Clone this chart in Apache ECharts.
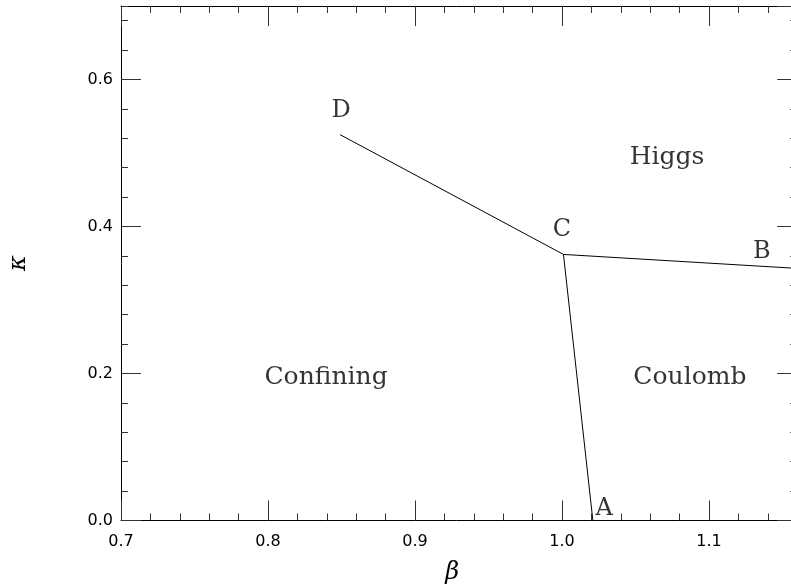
<!DOCTYPE html>
<html>
<head>
<meta charset="utf-8">
<script src="https://cdn.jsdelivr.net/npm/echarts@6/dist/echarts.min.js"></script>
<style>
  html, body { margin: 0; padding: 0; background: #fff; }
  #chart { width: 791px; height: 584px; }
</style>
</head>
<body>
<div id="chart"></div>
<script>
// phase boundary lines (beta, kappa)
const lineDC_B = [[0.849, 0.525], [1.001, 0.362], [1.16, 0.343]]
const lineC_A = [[1.001, 0.362], [1.021, 0.0]]

// point labels
const pointNames = ['D', 'C', 'B', 'A']
const pointPos = [[0.8497, 0.558], [1.0, 0.396], [1.136, 0.366], [1.0286, 0.016]]

// region labels
const regionNames = ['Higgs', 'Confining', 'Coulomb']
const regionPos = [[1.0714, 0.494], [0.8395, 0.195], [1.087, 0.195]]

const xMin = 0.7, xMax = 1.16
const yMin = 0.0, yMax = 0.7

const chart = echarts.init(document.getElementById('chart'))

const tickFont = { fontFamily: 'DejaVu Sans', fontSize: 16, color: '#000' }
const line = { show: true, onZero: false, lineStyle: { color: '#000', width: 1 } }
const noLine = { show: false, onZero: false }

// each side gets two axes: major ticks (long) and minor ticks (short)
const xAx = (pos, interval, len, opts) => Object.assign({
  type: 'value', position: pos, offset: 0, min: xMin, max: xMax, interval: interval,
  axisLine: noLine, splitLine: { show: false },
  axisTick: { show: true, inside: true, length: len, lineStyle: { color: '#333', width: 1 } },
  axisLabel: { show: false },
}, opts || {})

const yAx = (pos, interval, len, opts) => Object.assign({
  type: 'value', position: pos, offset: 0, min: yMin, max: yMax, interval: interval,
  axisLine: noLine, splitLine: { show: false },
  axisTick: { show: true, inside: true, length: len, lineStyle: { color: '#333', width: 1 } },
  axisLabel: { show: false },
}, opts || {})

chart.setOption({
  animation: false,
  grid: {
    left: 121, top: 6, width: (xMax - xMin) * 1470, height: (yMax - yMin) * 735,
    outerBoundsMode: 'none', containLabel: false,
  },
  xAxis: [
    xAx('bottom', 0.1, 20, {
      axisLine: line,
      axisLabel: { show: true, margin: 13, showMaxLabel: false, formatter: v => v.toFixed(1), ...tickFont },
      name: 'β', nameLocation: 'middle', nameGap: 40,
      nameTextStyle: { fontFamily: 'DejaVu Serif', fontStyle: 'italic', fontSize: 24, color: '#000', padding: [0, 14, 0, 0] },
    }),
    xAx('bottom', 0.02, 7),
    xAx('top', 0.1, 20, { axisLine: line }),
    xAx('top', 0.02, 7),
  ],
  yAxis: [
    yAx('left', 0.2, 20, {
      axisLine: line,
      axisLabel: { show: true, margin: 8, showMaxLabel: false, formatter: v => v.toFixed(1), ...tickFont },
      name: 'κ', nameLocation: 'middle', nameGap: 90, nameRotate: 90,
      nameTextStyle: { fontFamily: 'DejaVu Serif', fontStyle: 'italic', fontSize: 24, color: '#000' },
    }),
    yAx('left', 0.04, 7),
    yAx('right', 0.2, 20, { axisLine: line }),
    yAx('right', 0.04, 7),
  ],
  series: [
    { type: 'line', data: lineDC_B, symbol: 'none', lineStyle: { color: '#000', width: 1 } },
    { type: 'line', data: lineC_A, symbol: 'none', lineStyle: { color: '#000', width: 1 } },
    {
      type: 'scatter', symbolSize: 0,
      data: pointNames.map((n, i) => ({ name: n, value: pointPos[i] })),
      label: { show: true, position: 'inside', formatter: '{b}', fontFamily: 'DejaVu Serif', fontSize: 24, color: '#000' },
    },
    {
      type: 'scatter', symbolSize: 0,
      data: regionNames.map((n, i) => ({ name: n, value: regionPos[i] })),
      label: { show: true, position: 'inside', formatter: '{b}', fontFamily: 'DejaVu Serif', fontSize: 25, color: '#000' },
    },
  ],
})
</script>
</body>
</html>
